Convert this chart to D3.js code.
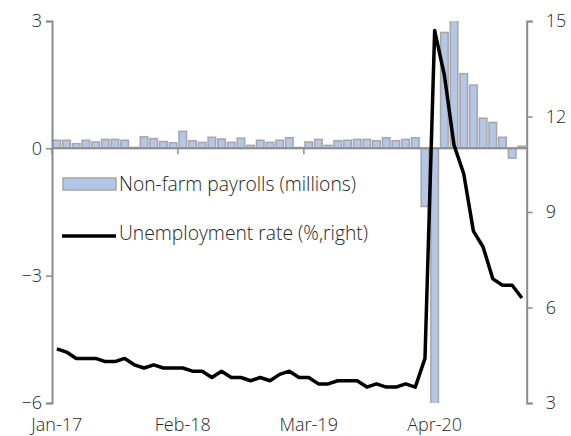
<!DOCTYPE html>
<html>
<head>
<meta charset="utf-8">
<script src="https://cdn.jsdelivr.net/npm/d3@7"></script>
<style>
  html, body { margin: 0; padding: 0; background: #fff; }
  svg { display: block; }
  text { font-family: "Open Sans", "Noto Sans", sans-serif; font-weight: 300; fill: #262626; }
</style>
</head>
<body>
<svg id="chart" width="571" height="436"></svg>
<script>
// Monthly categories, Jan 2017 – Jan 2021
const months = [
  "Jan-17","Feb-17","Mar-17","Apr-17","May-17","Jun-17","Jul-17","Aug-17","Sep-17","Oct-17","Nov-17","Dec-17",
  "Jan-18","Feb-18","Mar-18","Apr-18","May-18","Jun-18","Jul-18","Aug-18","Sep-18","Oct-18","Nov-18","Dec-18",
  "Jan-19","Feb-19","Mar-19","Apr-19","May-19","Jun-19","Jul-19","Aug-19","Sep-19","Oct-19","Nov-19","Dec-19",
  "Jan-20","Feb-20","Mar-20","Apr-20","May-20","Jun-20","Jul-20","Aug-20","Sep-20","Oct-20","Nov-20","Dec-20",
  "Jan-21"
];

// Monthly change in non-farm payrolls, millions (left axis)
const payrolls = [
  0.19, 0.19, 0.11, 0.19, 0.15, 0.21, 0.21, 0.19, 0.02, 0.27, 0.23, 0.16,
  0.13, 0.40, 0.18, 0.14, 0.26, 0.22, 0.14, 0.24, 0.07, 0.19, 0.14, 0.19,
  0.25, 0.02, 0.15, 0.21, 0.07, 0.18, 0.19, 0.21, 0.21, 0.18, 0.25, 0.18,
  0.21, 0.25, -1.37, -20.7, 2.73, 4.78, 1.76, 1.49, 0.71, 0.61, 0.26, -0.23,
  0.05
];

// Unemployment rate, % (right axis)
const unemployment = [
  4.7, 4.6, 4.4, 4.4, 4.4, 4.3, 4.3, 4.4, 4.2, 4.1, 4.2, 4.1,
  4.1, 4.1, 4.0, 4.0, 3.8, 4.0, 3.8, 3.8, 3.7, 3.8, 3.7, 3.9,
  4.0, 3.8, 3.8, 3.6, 3.6, 3.7, 3.7, 3.7, 3.5, 3.6, 3.5, 3.5,
  3.6, 3.5, 4.4, 14.7, 13.3, 11.1, 10.2, 8.4, 7.9, 6.9, 6.7, 6.7,
  6.3
];

const leftTicks = [-6, -3, 0, 3];
const rightTicks = [3, 6, 9, 12, 15];
const xTickLabels = ["Jan-17", "Feb-18", "Mar-19", "Apr-20"];

const seriesNames = ["Non-farm payrolls (millions)", "Unemployment rate (%,right)"];

const svg = d3.select("#chart");
const plot = { left: 52, right: 526.7, top: 21, bottom: 403 };
const axisColor = "#8c8c8c";
const fontSize = 18;
const legendFontSize = 19.3;

const x = d3.scaleBand()
  .domain(months)
  .range([plot.left, plot.right])
  .paddingInner(0.22)
  .paddingOuter(0.11);

const yL = d3.scaleLinear().domain([-6, 3]).range([plot.bottom, plot.top]);
const yR = d3.scaleLinear().domain([3, 15]).range([plot.bottom, plot.top]);

svg.append("defs").append("clipPath").attr("id", "plotClip")
  .append("rect")
  .attr("x", plot.left).attr("y", plot.top)
  .attr("width", plot.right - plot.left).attr("height", plot.bottom - plot.top);

// Payroll bars
svg.append("g").attr("clip-path", "url(#plotClip)")
  .selectAll("rect")
  .data(payrolls)
  .join("rect")
  .attr("x", (d, i) => x(months[i]))
  .attr("width", x.bandwidth())
  .attr("y", d => yL(Math.max(0, d)))
  .attr("height", d => Math.abs(yL(d) - yL(0)))
  .attr("fill", "#b4c7e7")
  .attr("stroke", "#a6a6a6")
  .attr("stroke-width", 1.5);

// Left axis
const leftAxis = svg.append("g")
  .attr("transform", `translate(${plot.left},0)`)
  .call(d3.axisLeft(yL).tickValues(leftTicks).tickSize(6).tickPadding(4).tickFormat(d3.format("d")));

// Right axis
const rightAxis = svg.append("g")
  .attr("transform", `translate(${plot.right},0)`)
  .call(d3.axisRight(yR).tickValues(rightTicks).tickSize(6).tickPadding(13).tickFormat(d3.format("d")));

// Category axis along zero, ticks every 13 months
const tickIdx = xTickLabels.map(l => months.indexOf(l));
const xAxisG = svg.append("g");
xAxisG.append("line")
  .attr("x1", plot.left).attr("x2", plot.right)
  .attr("y1", yL(0)).attr("y2", yL(0))
  .attr("stroke", axisColor).attr("stroke-width", 2);
xAxisG.selectAll("line.tk")
  .data(tickIdx)
  .join("line")
  .attr("class", "tk")
  .attr("x1", i => x(months[i]) - x.step() * x.paddingInner() / 2)
  .attr("x2", i => x(months[i]) - x.step() * x.paddingInner() / 2)
  .attr("y1", yL(0)).attr("y2", yL(0) + 6)
  .attr("stroke", axisColor).attr("stroke-width", 1.5);
xAxisG.selectAll("text")
  .data(xTickLabels)
  .join("text")
  .attr("x", d => x(d) + x.bandwidth() / 2)
  .attr("y", 431)
  .attr("text-anchor", "middle")
  .attr("font-size", fontSize)
  .text(d => d);

[leftAxis, rightAxis].forEach(g => {
  g.select(".domain").attr("stroke", axisColor).attr("stroke-width", 2);
  g.selectAll(".tick line").attr("stroke", axisColor).attr("stroke-width", 1.5);
  g.selectAll(".tick text").attr("font-size", fontSize).attr("fill", "#262626")
    .attr("font-family", "'Open Sans', sans-serif").attr("font-weight", 300);
});
rightAxis.selectAll(".tick text").attr("text-anchor", "start");

// Unemployment line
const line = d3.line()
  .x((d, i) => x(months[i]) + x.bandwidth() / 2)
  .y(d => yR(d));
svg.append("path")
  .datum(unemployment)
  .attr("d", line)
  .attr("fill", "none")
  .attr("stroke", "#000")
  .attr("stroke-width", 3.5)
  .attr("stroke-linejoin", "round");

// Legend
const legend = svg.append("g");
legend.append("rect")
  .attr("x", 63).attr("y", 178).attr("width", 53).attr("height", 12)
  .attr("fill", "#b4c7e7").attr("stroke", "#a6a6a6").attr("stroke-width", 1.5);
legend.append("text")
  .attr("x", 119).attr("y", 191)
  .attr("font-size", legendFontSize)
  .text(seriesNames[0]);
legend.append("line")
  .attr("x1", 62).attr("x2", 116).attr("y1", 236).attr("y2", 236)
  .attr("stroke", "#000").attr("stroke-width", 3.5);
legend.append("text")
  .attr("x", 119).attr("y", 240)
  .attr("font-size", legendFontSize)
  .text(seriesNames[1]);
</script>
</body>
</html>
